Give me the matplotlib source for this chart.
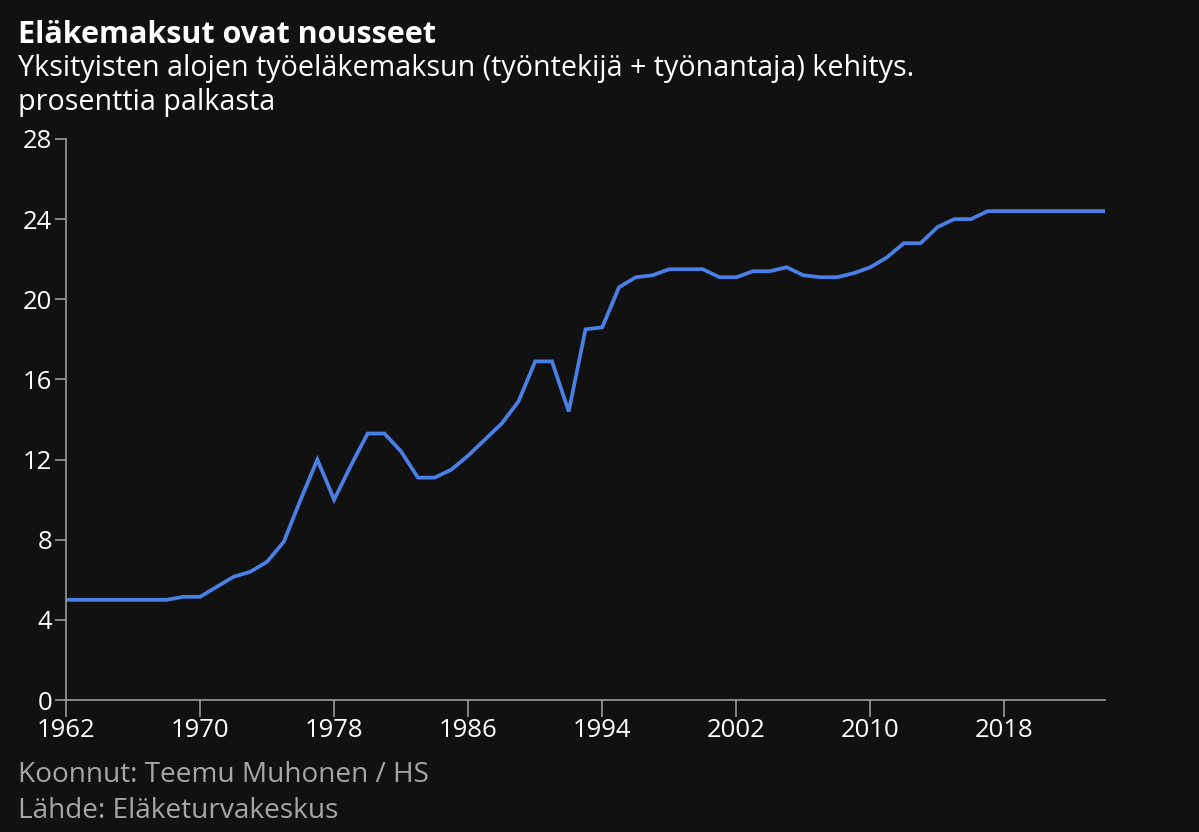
import matplotlib
matplotlib.use('Agg')
import matplotlib.pyplot as plt

plt.rcParams['font.family'] = ['Open Sans', 'DejaVu Sans']

# Yksityisten alojen työeläkemaksu, % palkasta
vuodet = list(range(1962, 2025))
maksu = [5.0, 5.0, 5.0, 5.0, 5.0, 5.0, 5.0, 5.15, 5.15, 5.65,
         6.15, 6.4, 6.9, 7.9, 10.0, 12.0, 10.0, 11.7, 13.3, 13.3,
         12.4, 11.1, 11.1, 11.5, 12.2, 13.0, 13.8, 14.9, 16.9, 16.9,
         14.4, 18.5, 18.6, 20.6, 21.1, 21.2, 21.5, 21.5, 21.5, 21.1,
         21.1, 21.4, 21.4, 21.6, 21.2, 21.1, 21.1, 21.3, 21.6, 22.1,
         22.8, 22.8, 23.6, 24.0, 24.0, 24.4, 24.4, 24.4, 24.4, 24.4,
         24.4, 24.4, 24.4]
x_ticks = [1962, 1970, 1978, 1986, 1994, 2002, 2010, 2018]
y_ticks = [0, 4, 8, 12, 16, 20, 24, 28]

BG = '#111111'
W, H = 1199, 832
fig = plt.figure(figsize=(W / 100, H / 100), dpi=100, facecolor=BG)
ax = fig.add_axes([66 / W, 1 - 700 / H, (1105 - 66) / W, (700 - 139) / H])
ax.set_facecolor(BG)

ax.plot(vuodet, maksu, color='#4a7fe6', linewidth=2.7, solid_joinstyle='miter')

ax.set_xlim(1962, 2024)
ax.set_ylim(0, 28)
ax.set_xticks(x_ticks)
ax.set_yticks(y_ticks)
for s in ['top', 'right']:
    ax.spines[s].set_visible(False)
for s in ['left', 'bottom']:
    ax.spines[s].set_color('#9a9a9a')
    ax.spines[s].set_linewidth(1.2)
ax.tick_params(axis='x', colors='#9a9a9a', labelcolor='white', length=12,
               width=1.2, labelsize=18.5, pad=1)
ax.tick_params(axis='y', colors='#9a9a9a', labelcolor='white', length=8,
               width=1.2, labelsize=18.5, pad=2)

fig.text(18 / W, 1 - 43 / H, 'Eläkemaksut ovat nousseet', color='white',
         fontsize=22, fontweight='bold', va='baseline')
fig.text(18 / W, 1 - 76 / H,
         'Yksityisten alojen työeläkemaksun (työntekijä + työnantaja) kehitys.',
         color='white', fontsize=20.6, va='baseline')
fig.text(18 / W, 1 - 110 / H, 'prosenttia palkasta', color='white',
         fontsize=20.6, va='baseline')
fig.text(18 / W, 1 - 782 / H, 'Koonnut: Teemu Muhonen / HS', color='#a6a6a6',
         fontsize=20.2, va='baseline')
fig.text(18 / W, 1 - 818 / H, 'Lähde: Eläketurvakeskus', color='#a6a6a6',
         fontsize=20.2, va='baseline')

fig.savefig('out.png', dpi=100, facecolor=BG)
